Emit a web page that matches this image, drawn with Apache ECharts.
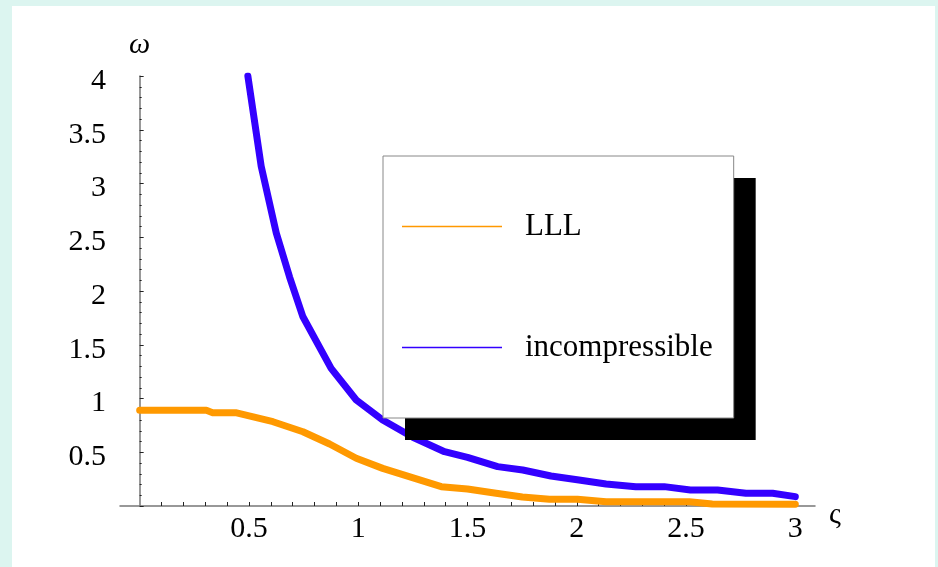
<!DOCTYPE html>
<html><head><meta charset="utf-8">
<script src="https://cdn.jsdelivr.net/npm/echarts@6/dist/echarts.min.js"></script>
<style>
html,body{margin:0;padding:0;background:#fff;}
#frame{position:absolute;left:0;top:0;width:938px;height:567px;box-sizing:border-box;border-left:12px solid #dcf5f0;border-top:6px solid #dcf5f0;border-right:3px solid #dcf5f0;background:#fff;}
#chart{position:absolute;left:0;top:0;width:938px;height:567px;}
</style></head><body><div id="frame"></div><div id="chart"></div>
<script>
const seriesNames = ['LLL', 'incompressible'];
const lllX = [0, 0.305, 0.334, 0.439, 0.61, 0.747, 0.869, 0.991, 1.112, 1.38, 1.5, 1.631, 1.751, 1.875, 2.003, 2.134, 2.515, 2.62, 3.0];
const lllY = [0.89, 0.89, 0.868, 0.868, 0.784, 0.691, 0.577, 0.444, 0.35, 0.18, 0.158, 0.118, 0.084, 0.062, 0.062, 0.04, 0.04, 0.019, 0.016];
const incX = [0.495, 0.556, 0.625, 0.686, 0.747, 0.876, 0.991, 1.112, 1.25, 1.395, 1.5, 1.638, 1.753, 1.882, 2.01, 2.134, 2.27, 2.40, 2.52, 2.644, 2.774, 2.896, 3.0];
const incY = [4.0, 3.16, 2.54, 2.13, 1.76, 1.28, 0.986, 0.80, 0.64, 0.505, 0.453, 0.366, 0.335, 0.279, 0.242, 0.205, 0.18, 0.18, 0.149, 0.149, 0.118, 0.118, 0.087];
const xLabelValues = [0.5, 1, 1.5, 2, 2.5, 3];
const xTickValues = [0.1,0.2,0.3,0.4,0.5,0.6,0.7,0.8,0.9,1.0,1.1,1.2,1.3,1.4,1.5,1.6,1.7,1.8,1.9,2.0,2.1,2.2,2.3,2.4,2.5,2.6,2.7,2.8,2.9,3.0];
const yLabelValues = [0.5, 1, 1.5, 2, 2.5, 3, 3.5, 4];

const serif = '"Liberation Serif", "Times New Roman", serif';
const pairs = (xs, ys) => xs.map((x, i) => [x, ys[i]]);

const legendBase = {
  orient: 'vertical', left: 383, top: 156,
  data: seriesNames,
  icon: 'rect', itemWidth: 100, itemHeight: 1.5, itemGap: 90,
  padding: [55, 21, 55, 19],
  selectedMode: false
};

const chart = echarts.init(document.getElementById('chart'), null, {renderer: 'canvas'});
chart.setOption({
  backgroundColor: 'transparent',
  animation: false,
  grid: {left: 120, right: 123, top: 76, bottom: 61, containLabel: false},
  xAxis: {
    type: 'value', min: -0.09, max: 3.09,
    name: '{s|ς}', nameLocation: 'end', nameGap: 14,
    nameTextStyle: {fontFamily: serif, fontSize: 30, color: '#000',
      rich: {s: {fontFamily: serif, fontSize: 30, color: '#000', lineHeight: 48, verticalAlign: 'bottom'}}},
    axisLine: {show: true, onZero: false, lineStyle: {color: '#777', width: 1.5}},
    axisTick: {show: true, inside: true, length: 4, customValues: xTickValues, lineStyle: {color: '#222', width: 1}},
    axisLabel: {show: true, customValues: xLabelValues, margin: 8, fontFamily: serif, fontSize: 30, color: '#000'},
    splitLine: {show: false}
  },
  yAxis: {
    type: 'value', min: 0, max: 4, interval: 0.5,
    name: 'ω', nameLocation: 'end', nameGap: 16,
    nameTextStyle: {fontFamily: serif, fontSize: 30, fontStyle: 'italic', color: '#000', align: 'center'},
    axisLine: {show: true, onZero: true, lineStyle: {color: '#777', width: 1.5}},
    axisTick: {show: true, inside: true, length: 4, lineStyle: {color: '#222', width: 1}},
    minorTick: {show: true, splitNumber: 5, length: 2, lineStyle: {color: '#222', width: 1}},
    axisLabel: {show: true, customValues: yLabelValues, margin: 14, color: '#000',
      formatter: v => '{v|' + v + '}',
      rich: {v: {fontFamily: serif, fontSize: 30, color: '#000', lineHeight: 40, verticalAlign: 'bottom'}}},
    splitLine: {show: false}
  },
  legend: [
    Object.assign({}, legendBase, {
      backgroundColor: '#fff', borderWidth: 0,
      shadowColor: '#000', shadowBlur: 0, shadowOffsetX: 22, shadowOffsetY: 22,
      textStyle: {fontFamily: serif, fontSize: 31, color: '#000', padding: [0, 0, 0, 18]},
      z: 4
    }),
    Object.assign({}, legendBase, {
      backgroundColor: 'transparent', borderColor: '#888', borderWidth: 1,
      itemStyle: {opacity: 0},
      textStyle: {fontFamily: serif, fontSize: 31, color: 'rgba(0,0,0,0)', padding: [0, 0, 0, 18]},
      z: 5
    })
  ],
  series: [
    {name: seriesNames[0], type: 'line', data: pairs(lllX, lllY), symbol: 'none', color: '#ff9900',
     lineStyle: {width: 7, color: '#ff9900', cap: 'round', join: 'round'}, z: 2},
    {name: seriesNames[1], type: 'line', data: pairs(incX, incY), symbol: 'none', color: '#3300ff',
     lineStyle: {width: 7, color: '#3300ff', cap: 'round', join: 'round'}, z: 2}
  ]
});
</script></body></html>
